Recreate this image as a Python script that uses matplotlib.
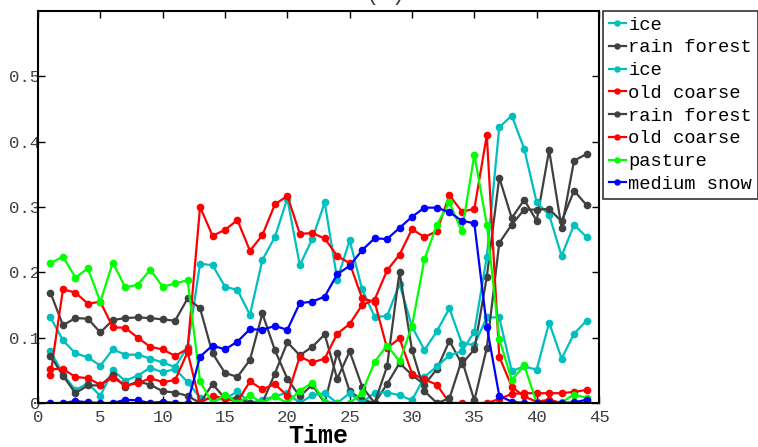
import matplotlib
matplotlib.use("Agg")
import matplotlib.pyplot as plt
import numpy as np

t = list(range(1, 45))

ice_1 = [0.131,0.096,0.076,0.070,0.057,0.082,0.074,0.074,0.068,0.062,0.055,0.086,
         0.213,0.211,0.178,0.173,0.135,0.219,0.254,0.313,
         0.211,0.251,0.307,0.189,0.249,0.174,0.132,0.133,0.182,0.117,
         0.081,0.110,0.145,0.091,0.089,0.131,0.131,0.049,0.056,0.051,
         0.123,0.068,0.106,0.126]
rain_forest_1 = [0.169,0.119,0.130,0.129,0.108,0.127,0.130,0.131,0.130,0.128,0.126,0.160,
                 0.145,0.076,0.046,0.040,0.066,0.137,0.081,0.037,
                 0.010,0.028,0.000,0.077,0.018,0.005,0.000,0.029,0.061,0.043,
                 0.028,0.052,0.095,0.060,0.082,0.193,0.345,0.283,0.311,0.279,
                 0.387,0.268,0.371,0.381]
ice_2 = [0.080,0.044,0.020,0.030,0.011,0.050,0.034,0.042,0.054,0.047,0.052,0.032,
         0.008,0.005,0.006,0.018,0.000,0.005,0.010,0.016,
         0.000,0.012,0.015,0.000,0.015,0.000,0.016,0.016,0.012,0.004,
         0.040,0.056,0.073,0.079,0.109,0.224,0.422,0.440,0.389,0.307,
         0.288,0.225,0.273,0.254]
old_coarse_1 = [0.043,0.174,0.169,0.152,0.155,0.116,0.115,0.100,0.086,0.082,0.072,0.083,
                0.300,0.256,0.265,0.280,0.233,0.257,0.304,0.317,
                0.259,0.260,0.252,0.225,0.214,0.160,0.155,0.084,0.099,0.045,
                0.036,0.028,0.000,0.000,0.000,0.000,0.006,0.014,0.015,0.015,
                0.015,0.015,0.017,0.020]
rain_forest_2 = [0.072,0.042,0.015,0.027,0.027,0.043,0.025,0.033,0.028,0.018,0.016,0.011,
                 0.000,0.029,0.007,0.007,0.000,0.000,0.045,0.093,
                 0.073,0.086,0.105,0.037,0.079,0.025,0.000,0.056,0.201,0.081,
                 0.018,0.000,0.007,0.066,0.004,0.084,0.245,0.273,0.296,0.296,
                 0.297,0.278,0.325,0.303]
old_coarse_2 = [0.052,0.052,0.040,0.038,0.028,0.039,0.027,0.030,0.038,0.032,0.035,0.078,
                0.000,0.011,0.007,0.002,0.033,0.021,0.029,0.011,
                0.071,0.062,0.068,0.106,0.121,0.150,0.158,0.203,0.227,0.266,
                0.254,0.263,0.318,0.293,0.297,0.410,0.071,0.025,0.010,0.002,
                0.005,0.000,0.000,0.000]
pasture = [0.214,0.224,0.192,0.206,0.155,0.215,0.177,0.181,0.204,0.178,0.183,0.188,
           0.033,0.000,0.013,0.000,0.012,0.000,0.010,0.000,
           0.019,0.031,0.002,0.000,0.000,0.016,0.063,0.088,0.064,0.118,
           0.220,0.273,0.307,0.263,0.380,0.273,0.098,0.035,0.058,0.000,
           0.000,0.001,0.013,0.008]
medium_snow = [0.000,0.000,0.003,0.001,0.000,0.000,0.005,0.004,0.000,0.002,0.000,0.000,
               0.071,0.088,0.082,0.094,0.113,0.112,0.118,0.112,
               0.153,0.155,0.163,0.197,0.210,0.234,0.252,0.251,0.268,0.285,
               0.299,0.299,0.292,0.279,0.275,0.117,0.011,0.002,0.000,0.000,
               0.002,0.000,0.001,0.005]

series = [
    ("ice", ice_1, "#00BFBF"),
    ("rain forest", rain_forest_1, "#404040"),
    ("ice", ice_2, "#00BFBF"),
    ("old coarse", old_coarse_1, "#FF0000"),
    ("rain forest", rain_forest_2, "#404040"),
    ("old coarse", old_coarse_2, "#FF0000"),
    ("pasture", pasture, "#00FF00"),
    ("medium snow", medium_snow, "#0000FF"),
]

mono = "Liberation Mono"
W, H = 758, 447
fig = plt.figure(figsize=(W / 100, H / 100), dpi=100)
ax = fig.add_axes([38 / W, 1 - 403 / H, (599 - 38) / W, (403 - 11) / H])

for name, vals, col in series:
    ax.plot(t, vals, '-o', color=col, lw=1.6, ms=4.5, label=name)

ax.set_xlim(0, 45)
ax.set_ylim(0, 0.6)
ax.set_xticks(range(0, 46, 5))
ax.set_yticks([0, 0.1, 0.2, 0.3, 0.4, 0.5])
ax.set_yticklabels(["0", "0.1", "0.2", "0.3", "0.4", "0.5"])
ax.tick_params(direction='in', top=True, right=True, length=5, width=1,
               labelsize=12.5, labelcolor='#404040')
ax.tick_params(axis='x', pad=5)
ax.tick_params(axis='y', pad=-1.5)
for lab in ax.get_xticklabels() + ax.get_yticklabels():
    lab.set_family(mono)
for sp in ax.spines.values():
    sp.set_linewidth(1.5)

ax.set_xlabel("Time", fontfamily=mono, fontweight='bold', fontsize=18, labelpad=-1)

fig.text(385 / W, 1.0, "(a)", ha='center', va='baseline', fontsize=16,
         fontfamily=mono, color='#404040')

leg = ax.legend(loc='upper left', bbox_to_anchor=((603 - 38) / (599 - 38), 1.0),
                prop={'family': mono, 'size': 13.5}, frameon=True, fancybox=False,
                edgecolor='black', handlelength=0.9, handletextpad=0.15,
                labelspacing=0.3, borderpad=0.3, borderaxespad=0, markerscale=0.8)
leg.get_frame().set_linewidth(1.2)

fig.savefig("out.png", dpi=100)
